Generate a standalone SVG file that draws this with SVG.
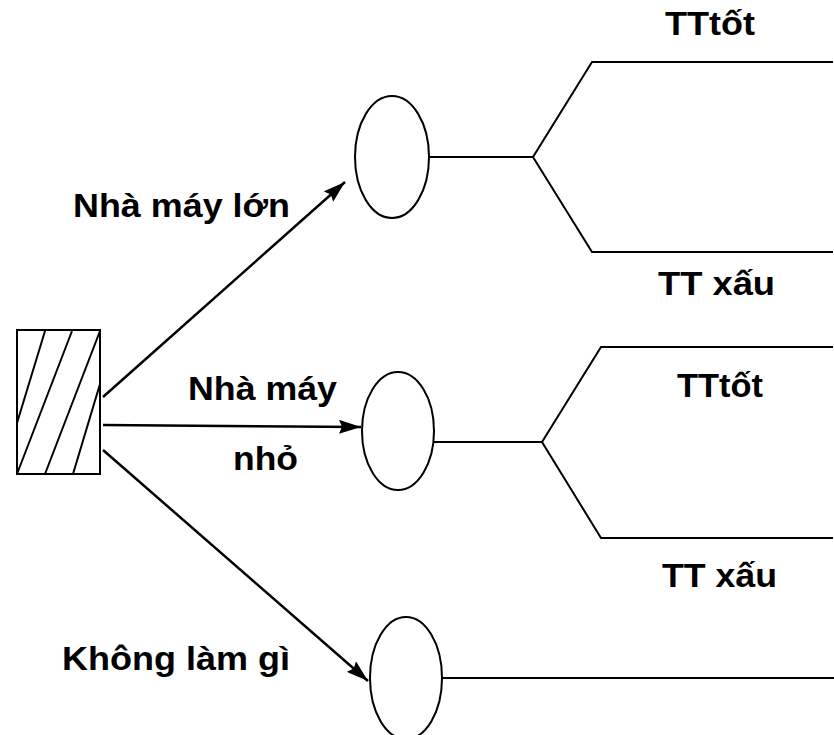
<svg xmlns="http://www.w3.org/2000/svg" width="834" height="735" viewBox="0 0 834 735">
  <style>
    .ln { fill: none; stroke: #000; stroke-width: 2; }
    .arr { fill: none; stroke: #000; stroke-width: 2.5; marker-end: url(#head); }
    .node { fill: #fff; stroke: #000; stroke-width: 2; }
    .lbl { font-family: "Liberation Sans", Arial, sans-serif; font-weight: bold; font-size: 34px; fill: #000; }
  </style>
  <defs>
    <marker id="head" markerUnits="userSpaceOnUse" markerWidth="22" markerHeight="14" refX="22" refY="7" orient="auto">
      <path d="M0,0 L22,7 L0,14 L3,7 Z" fill="#000"/>
    </marker>
  </defs>

  <!-- decision node -->
  <g id="decision">
    <rect x="17" y="330" width="83" height="144" class="node"/>
    <path class="ln" d="M17,423 L45,331 M17,474 L72,331 M45,474 L100,331 M73,474 L100,384"/>
  </g>

  <!-- chance nodes -->
  <g id="chance-large">
    <ellipse cx="392" cy="157" rx="37" ry="61" class="node"/>
  </g>
  <g id="chance-small">
    <ellipse cx="398" cy="431" rx="36" ry="59" class="node"/>
  </g>
  <g id="chance-none">
    <ellipse cx="406" cy="678" rx="36" ry="61" class="node"/>
  </g>

  <!-- connectors -->
  <g id="connectors">
    <line x1="103" y1="397" x2="345" y2="182" class="arr"/>
    <line x1="103" y1="425" x2="361" y2="427" class="arr"/>
    <line x1="103" y1="450" x2="368" y2="681" class="arr"/>

    <path class="ln" d="M429,157 L533,157 M833,62 L592,62 L533,157 L592,252 L833,252"/>
    <path class="ln" d="M434,442 L542,442 M833,347 L601,347 L542,442 L601,538 L833,538"/>
    <path class="ln" d="M442,678 L834,678"/>
  </g>

  <!-- labels -->
  <g id="labels">
    <text class="lbl" x="73" y="217" textLength="217" lengthAdjust="spacingAndGlyphs">Nhà máy lớn</text>
    <text class="lbl" x="188" y="400" textLength="149" lengthAdjust="spacingAndGlyphs">Nhà máy</text>
    <text class="lbl" x="233" y="470" textLength="65" lengthAdjust="spacingAndGlyphs">nhỏ</text>
    <text class="lbl" x="62" y="670" textLength="228" lengthAdjust="spacingAndGlyphs">Không làm gì</text>
    <text class="lbl" x="665" y="35" textLength="90" lengthAdjust="spacingAndGlyphs">TTtốt</text>
    <text class="lbl" x="658" y="295" textLength="117" lengthAdjust="spacingAndGlyphs">TT xấu</text>
    <text class="lbl" x="677" y="397" textLength="86" lengthAdjust="spacingAndGlyphs">TTtốt</text>
    <text class="lbl" x="662" y="587" textLength="115" lengthAdjust="spacingAndGlyphs">TT xấu</text>
  </g>
</svg>
